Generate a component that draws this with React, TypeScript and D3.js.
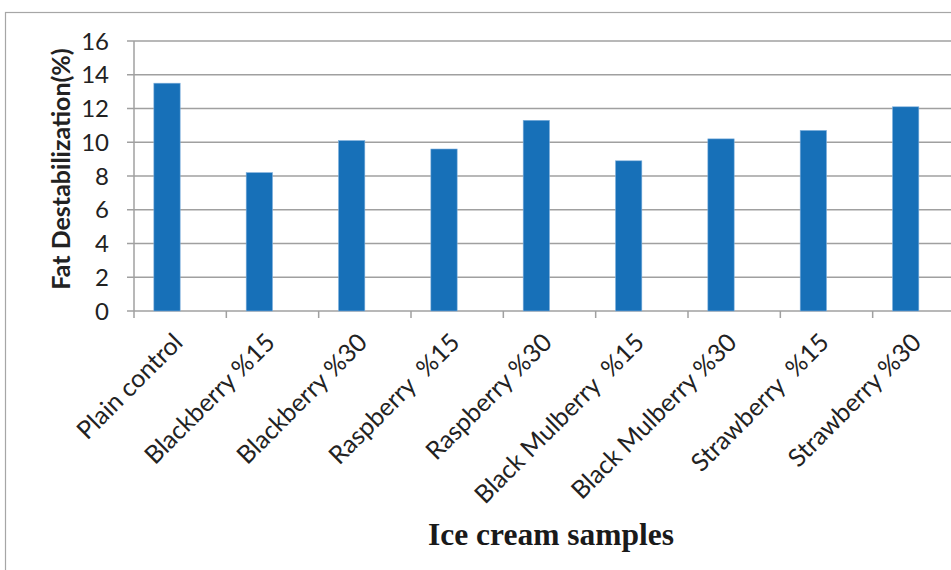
import React from "react";
import * as d3 from "d3";

const categories = [
  "Plain control",
  "Blackberry %15",
  "Blackberry %30",
  "Raspberry  %15",
  "Raspberry %30",
  "Black Mulberry  %15",
  "Black Mulberry %30",
  "Strawberry  %15",
  "Strawberry %30",
];
const fatDestabilization = [13.5, 8.2, 10.1, 9.6, 11.3, 8.9, 10.2, 10.7, 12.1];
const yTicks = [0, 2, 4, 6, 8, 10, 12, 14, 16];

const W = 951;
const H = 570;
const plot = { left: 134, top: 41, bottom: 311, right: 965 };

export default function App() {
  const x = d3
    .scaleBand<string>()
    .domain(categories)
    .range([plot.left, plot.right])
    .padding(0);
  const y = d3.scaleLinear().domain([0, 16]).range([plot.bottom, plot.top]);
  const bw = x.bandwidth();
  const barOffset = bw * 0.215;
  const barWidth = bw * 0.285;
  const tickFont = "Lato, 'Open Sans', sans-serif";

  return (
    <svg
      width={W}
      height={H}
      viewBox={`0 0 ${W} ${H}`}
      style={{ position: "absolute", left: 0, top: 0, background: "#fff" }}
    >
      {/* chart frame */}
      <rect x={5.5} y={12.5} width={W + 20} height={H + 20} fill="#fff" stroke="#a6a6a6" strokeWidth={1.2} />

      {/* gridlines */}
      {yTicks.map((t) => (
        <line
          key={`g${t}`}
          x1={plot.left - 7}
          x2={plot.right}
          y1={y(t)}
          y2={y(t)}
          stroke="#a0a0a0"
          strokeWidth={1.5}
        />
      ))}

      {/* y axis line */}
      <line x1={plot.left} x2={plot.left} y1={plot.top} y2={plot.bottom} stroke="#a0a0a0" strokeWidth={1.5} />

      {/* category tick marks */}
      {d3.range(categories.length + 1).map((i) => {
        const xv = plot.left + i * bw;
        return (
          <line key={`t${i}`} x1={xv} x2={xv} y1={plot.bottom} y2={plot.bottom + 7} stroke="#a0a0a0" strokeWidth={1.5} />
        );
      })}

      {/* bars */}
      {categories.map((c, i) => (
        <rect
          key={c}
          x={(x(c) as number) + barOffset}
          y={y(fatDestabilization[i])}
          width={barWidth}
          height={y(0) - y(fatDestabilization[i])}
          fill="#1770b8"
          stroke="#7fb0dc"
          strokeWidth={0.6}
        />
      ))}

      {/* y tick labels */}
      {yTicks.map((t) => (
        <text
          key={`yl${t}`}
          x={109}
          y={y(t)}
          dy="0.36em"
          textAnchor="end"
          fontFamily={tickFont}
          fontSize={24}
          fill="#222"
        >
          {t}
        </text>
      ))}

      {/* category labels */}
      {categories.map((c) => {
        const cx = (x(c) as number) + bw / 2;
        return (
          <text
            key={`xl${c}`}
            transform={`translate(${cx + 4},${plot.bottom + 33}) rotate(-45)`}
            textAnchor="end"
            fontFamily={tickFont}
            fontSize={25}
            fill="#222"
            style={{ whiteSpace: "pre" }}
          >
            {c}
          </text>
        );
      })}

      {/* y axis title */}
      <text
        transform={`translate(70,169) rotate(-90)`}
        textAnchor="middle"
        fontFamily={tickFont}
        fontWeight="bold"
        fontSize={25}
        fill="#222"
      >
        Fat Destabilization(%)
      </text>

      {/* x axis title */}
      <text
        x={551}
        y={545}
        textAnchor="middle"
        fontFamily="'Liberation Serif', 'Times New Roman', serif"
        fontWeight="bold"
        fontSize={31.5}
        fill="#1a1a1a"
      >
        Ice cream samples
      </text>
    </svg>
  );
}
